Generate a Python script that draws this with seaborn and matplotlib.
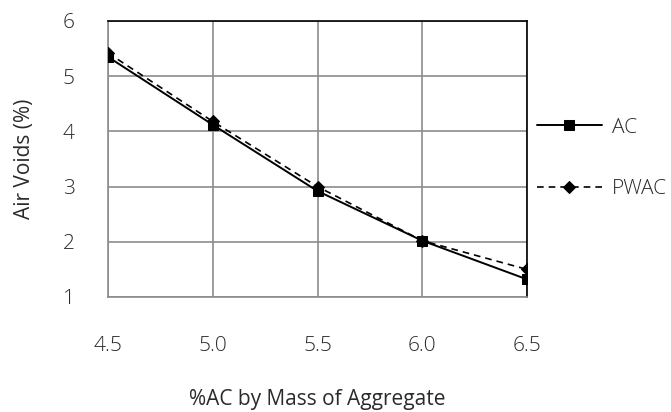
import matplotlib
matplotlib.use("Agg")
import matplotlib.pyplot as plt
import seaborn as sns
import pandas as pd

ac_content = [4.5, 5.0, 5.5, 6.0, 6.5]
ac_voids = [5.35, 4.12, 2.92, 2.02, 1.32]
pwac_voids = [5.42, 4.18, 3.00, 2.02, 1.50]
x_ticks = [4.5, 5.0, 5.5, 6.0, 6.5]
y_ticks = [1, 2, 3, 4, 5, 6]

sns.set_style("white")
plt.rcParams['font.family'] = ['Open Sans', 'DejaVu Sans']
plt.rcParams['font.weight'] = 'light'

FS = 15
TXT = "#2a2a2a"

fig = plt.figure(figsize=(6.71, 4.12), dpi=100)
ax = fig.add_axes([108/671, 1-297/412, (527-108)/671, (297-21)/412])

df_ac = pd.DataFrame({"x": ac_content, "y": ac_voids})
df_pw = pd.DataFrame({"x": ac_content, "y": pwac_voids})

sns.lineplot(data=df_ac, x="x", y="y", ax=ax, color="black", linewidth=1.4,
             marker="s", markersize=6.5, markeredgecolor="black", label="AC", zorder=3)
sns.lineplot(data=df_pw, x="x", y="y", ax=ax, color="black", linewidth=1.2,
             linestyle=(0, (4, 3)), marker="D", markersize=6.5, markeredgecolor="black",
             label="PWAC", zorder=3)

ax.set_xlim(4.5, 6.5)
ax.set_ylim(1, 6)
ax.set_xticks(x_ticks)
ax.set_xticklabels([f"{v:.1f}" for v in x_ticks])
ax.set_yticks(y_ticks)
ax.grid(True, color="#8c8c8c", linewidth=1.2)
ax.tick_params(axis='x', length=0, pad=28, labelsize=FS, colors=TXT)
ax.tick_params(axis='y', length=0, pad=24, labelsize=FS, colors=TXT)
for s in ["left", "bottom"]:
    ax.spines[s].set_color("#8c8c8c")
    ax.spines[s].set_linewidth(1.2)
for s in ["top", "right"]:
    ax.spines[s].set_color("black")
    ax.spines[s].set_linewidth(1.2)
ax.set_xlabel("%AC by Mass of Aggregate", fontsize=FS, color=TXT, labelpad=24)
ax.set_ylabel("Air Voids (%)", fontsize=FS, color=TXT, labelpad=20)

ax.legend(loc="center left", bbox_to_anchor=(537/671, 1-158.5/412),
          bbox_transform=fig.transFigure, frameon=False, fontsize=FS,
          handlelength=3.1, handletextpad=0.5, labelspacing=2.0, borderpad=0,
          borderaxespad=0, labelcolor=TXT)

fig.savefig("out.png", dpi=100)
